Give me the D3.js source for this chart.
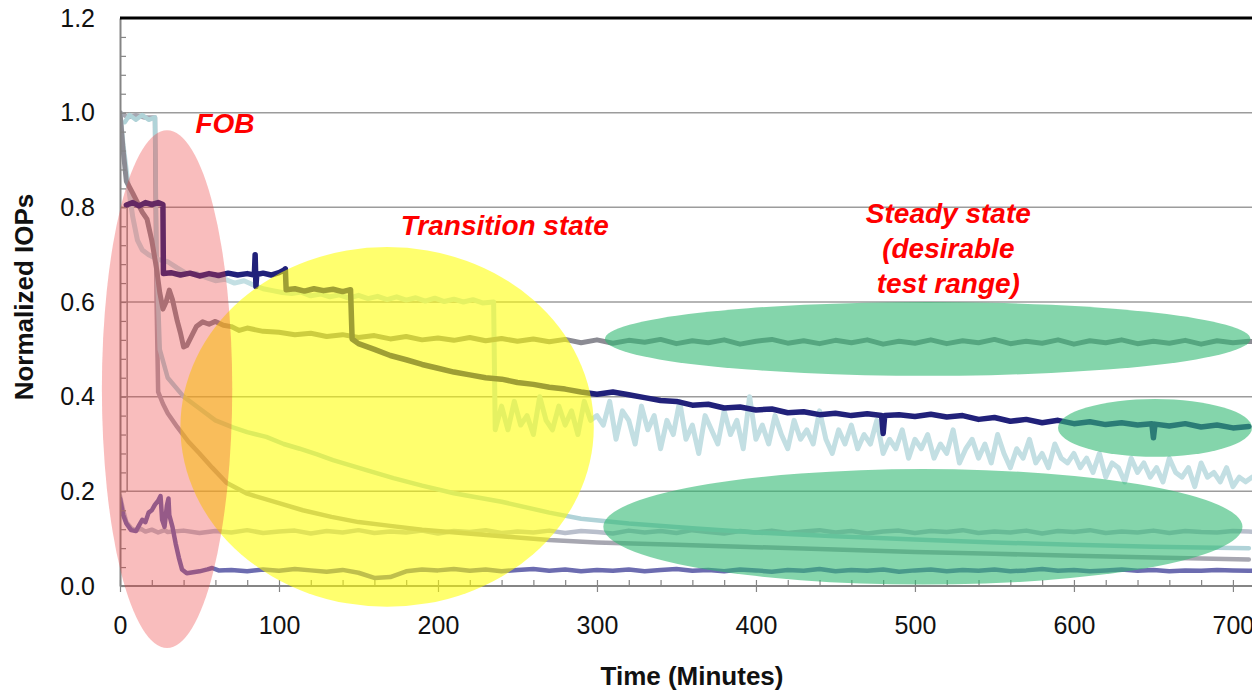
<!DOCTYPE html>
<html>
<head>
<meta charset="utf-8">
<script src="https://cdn.jsdelivr.net/npm/d3@7"></script>
<style>
  body { margin: 0; background: #fff; }
  svg { display: block; font-family: "Liberation Sans", Arial, sans-serif; }
</style>
</head>
<body>
<script>
// ---- data (minutes, normalized IOPs) ----
const xTicks = [0, 100, 200, 300, 400, 500, 600, 700];
const yTicks = [0, 0.2, 0.4, 0.6, 0.8, 1.0, 1.2];
const gridValues = [0.2, 0.4, 0.6, 0.8, 1.0];

// gray series that settles at ~0.52
const s1Head = [[0,1.0],[2,0.92],[4,0.855],[8,0.83],[11,0.81],[14,0.79],[17,0.775],[20,0.73],[23,0.67],[25,0.62],[27,0.585],[29,0.6],[31,0.625],[33,0.605],[36,0.56],[38,0.535],[40,0.505],[42,0.508],[45,0.528],[48,0.548],[52,0.558],[56,0.553],[60,0.559],[65,0.551],[70,0.548],[75,0.54]];
// sampled every 10 min from t=80
const s1Tail = [0.545,0.538,0.536,0.531,0.534,0.527,0.531,0.525,0.529,0.522,0.527,0.52,0.524,0.519,0.525,0.518,0.523,0.517,0.522,0.516,0.521,0.514,0.52,0.513,0.519,0.515,0.521,0.512,0.518,0.514,0.52,0.511,0.517,0.521,0.513,0.518,0.512,0.519,0.514,0.52,0.511,0.517,0.513,0.52,0.512,0.518,0.514,0.521,0.512,0.517,0.513,0.52,0.511,0.518,0.514,0.52,0.512,0.517,0.513,0.519,0.511,0.518,0.514,0.517,0.515,0.516];

// navy series
const s2 = [[4,0.805],[8,0.81],[12,0.803],[16,0.81],[20,0.806],[24,0.81],[27,0.806],[27.3,0.66],[32,0.662],[38,0.657],[44,0.661],[50,0.655],[56,0.66],[62,0.656],[68,0.661],[74,0.657],[80,0.66],[84.5,0.657],[85,0.70],[85.5,0.633],[86,0.658],[90,0.661],[95,0.657],[100,0.662],[103,0.667],[104,0.67],[104.5,0.626],[110,0.628],[116,0.623],[122,0.628],[128,0.624],[134,0.627],[140,0.622],[145,0.626],[146,0.522],[150,0.512],[160,0.5],[170,0.487],[180,0.478],[190,0.468],[200,0.46],[210,0.452],[220,0.446],[230,0.44],[240,0.437],[250,0.43],[260,0.426],[270,0.42],[280,0.416],[290,0.41],[300,0.405],[310,0.41],[320,0.404],[330,0.398],[340,0.392],[350,0.39],[360,0.382],[370,0.384],[380,0.376],[390,0.378],[400,0.372],[410,0.374],[420,0.366],[430,0.368],[440,0.362],[450,0.365],[460,0.36],[470,0.364],[479,0.36],[480,0.322],[481,0.36],[490,0.362],[500,0.358],[510,0.363],[520,0.357],[530,0.36],[540,0.352],[550,0.356],[560,0.348],[570,0.352],[580,0.345],[590,0.35],[600,0.343],[610,0.347],[620,0.341],[630,0.345],[640,0.34],[649,0.343],[650,0.313],[651,0.342],[660,0.338],[670,0.343],[680,0.336],[690,0.34],[700,0.334],[710,0.337]];

// light blue series: ~0.6 plateau then noisy band
const s3Head = [[0,1.0],[2,0.93],[5,0.85],[8,0.78],[11,0.73],[14,0.71],[18,0.7],[24,0.69],[30,0.685],[36,0.672],[42,0.66],[48,0.66],[54,0.652],[60,0.645],[66,0.648],[72,0.64],[78,0.645],[84,0.636],[90,0.628],[96,0.624],[102,0.62],[108,0.618],[114,0.621],[120,0.613],[126,0.617],[132,0.611],[138,0.615],[144,0.608],[150,0.614],[156,0.607],[162,0.612],[168,0.605],[174,0.611],[180,0.604],[186,0.609],[192,0.602],[198,0.608],[204,0.601],[210,0.606],[216,0.6],[222,0.605],[228,0.598],[235,0.6],[236,0.33]];
// sampled every 4 min from t=240
const s3Tail = [0.38,0.33,0.39,0.34,0.36,0.32,0.40,0.35,0.33,0.38,0.34,0.37,0.32,0.39,0.35,0.36,
  0.34,0.39,0.31,0.37,0.35,0.30,0.38,0.33,0.36,0.29,0.35,0.32,0.39,0.31,0.34,0.28,0.36,0.33,0.30,0.37,0.32,0.35,0.29,0.40,0.31,
  0.34,0.30,0.36,0.32,0.29,0.35,0.31,0.33,0.30,0.37,0.31,0.28,0.33,0.30,0.34,0.29,0.32,0.30,0.35,0.28,0.31,0.29,0.33,0.27,0.31,
  0.29,0.32,0.27,0.30,0.28,0.33,0.26,0.29,0.31,0.27,0.30,0.26,0.32,0.28,0.25,0.29,0.27,0.31,0.26,0.28,0.25,0.30,0.27,0.26,0.28,
  0.25,0.27,0.24,0.28,0.23,0.26,0.25,0.22,0.27,0.24,0.26,0.23,0.25,0.22,0.27,0.24,0.23,0.25,0.21,0.26,0.23,0.24,0.22,0.25,0.21,0.23,0.22,0.23];

// gray decay series
const s4 = [[0,1.0],[5,0.99],[10,0.995],[15,0.99],[22,0.99],[23,0.6],[24,0.41],[27,0.385],[30,0.365],[36,0.336],[43,0.305],[50,0.28],[58,0.25],[67,0.218],[80,0.195],[100,0.175],[115,0.16],[133,0.146],[150,0.135],[170,0.127],[190,0.119],[215,0.112],[240,0.105],[270,0.097],[300,0.092],[350,0.087],[400,0.082],[450,0.077],[500,0.072],[550,0.068],[600,0.064],[650,0.06],[710,0.056]];

// light gray series flat at ~0.115
const s5Head = [[0,0.19],[2,0.16],[4,0.135],[7,0.122],[10,0.117],[13,0.121],[16,0.115],[20,0.119],[24,0.113],[28,0.118]];
// sampled every 10 min from t=30
const s5Tail = [0.114,0.117,0.112,0.116,0.113,0.118,0.112,0.115,0.117,0.111,0.116,0.113,0.118,0.112,0.115,0.113,0.117,0.111,0.116,0.114,0.118,0.112,0.115,0.113,0.117,0.112,0.116,0.114,0.111,0.117,0.113,0.116,0.112,0.118,0.114,0.111,0.116,0.113,0.117,0.112,0.115,0.118,0.113,0.116,0.111,0.115,0.117,0.112,0.116,0.114,0.118,0.112,0.115,0.113,0.117,0.111,0.116,0.114,0.118,0.112,0.115,0.113,0.117,0.112,0.116,0.114,0.113,0.116,0.115,0.114,0.116];

// teal/light blue decay series
const s6 = [[3,0.98],[6,0.995],[10,0.985],[14,0.995],[18,0.985],[22,0.99],[23,0.7],[25,0.5],[30,0.44],[40,0.4],[50,0.375],[60,0.35],[71,0.335],[80,0.325],[92,0.315],[103,0.30],[113,0.29],[124,0.278],[134,0.266],[145,0.255],[155,0.245],[172,0.228],[190,0.212],[210,0.196],[240,0.178],[270,0.155],[290,0.142],[320,0.132],[360,0.122],[400,0.113],[450,0.105],[500,0.098],[550,0.092],[600,0.087],[650,0.083],[710,0.08]];

// purple series near zero
const s8Head = [[0,0.185],[2,0.15],[4,0.132],[7,0.118],[10,0.116],[12,0.128],[14,0.14],[16,0.135],[18,0.155],[20,0.16],[22,0.172],[24,0.18],[25.5,0.19],[26.5,0.14],[28,0.125],[29.5,0.17],[30.5,0.185],[31,0.15],[33,0.125],[35,0.09],[37,0.06],[39,0.035],[42,0.027],[46,0.029],[50,0.031],[55,0.035],[58,0.038],[62,0.033]];
// sampled every 10 min from t=70
const s8Tail = [0.034,0.031,0.035,0.032,0.036,0.033,0.03,0.034,0.028,0.017,0.019,0.031,0.035,0.033,0.036,0.032,0.035,0.031,0.034,0.036,0.032,0.035,0.031,0.034,0.032,0.035,0.031,0.034,0.036,0.032,0.034,0.031,0.035,0.033,0.03,0.034,0.032,0.036,0.031,0.034,0.032,0.035,0.03,0.033,0.035,0.031,0.034,0.032,0.035,0.031,0.033,0.036,0.032,0.034,0.031,0.033,0.035,0.032,0.034,0.031,0.033,0.032,0.034,0.033,0.032,0.033,0.034,0.032];

// highlighted regions (center t, center v, radius t, radius v)
const regions = [
  { name: "transition", t: 168, v: 0.336, rt: 130, rv: 0.38, fill: "rgb(255,255,0)", op: 0.57 },
  { name: "fob", t: 29.6, v: 0.416, rt: 41, rv: 0.547, fill: "rgb(238,55,55)", op: 0.33 },
  { name: "steadyTop", t: 508, v: 0.522, rt: 203, rv: 0.078, fill: "rgb(50,185,115)", op: 0.6 },
  { name: "steadyMid", t: 651, v: 0.334, rt: 61, rv: 0.061, fill: "rgb(50,185,115)", op: 0.6 },
  { name: "steadyLow", t: 505, v: 0.125, rt: 201, rv: 0.122, fill: "rgb(50,185,115)", op: 0.6 }
];

const labels = [
  { lines: ["FOB"], t: 66, v: 0.957 },
  { lines: ["Transition state"], t: 242, v: 0.741 },
  { lines: ["Steady state", "(desirable", "test range)"], t: 521, v: 0.767 }
];

// ---- build ----
const tail = (start, step, vals) => vals.map((v, i) => [start + step * i, v]);
const series = [
  { data: s5Head.concat(tail(30, 10, s5Tail)), color: "#b9bfcc", w: 4.5 },
  { data: s4, color: "#a7a7b1", w: 4.5 },
  { data: s6, color: "#b0d3d8", w: 4.5 },
  { data: s8Head.concat(tail(70, 10, s8Tail)), color: "#6c6cb0", w: 4.5 },
  { data: s3Head.concat(tail(240, 4, s3Tail)), color: "#c3dfe3", w: 5 },
  { data: s1Head.concat(tail(80, 10, s1Tail)), color: "#8b8b93", w: 5 },
  { data: s2, color: "#21217a", w: 5.5 }
];

const width = 1252, height = 690;
const plotLeft = 120, plotRight = 1252, plotTop = 18, plotBottom = 586;

const svg = d3.select("body").append("svg")
  .attr("width", width)
  .attr("height", height);

const x = d3.scaleLinear().domain([0, 712]).range([plotLeft, plotRight]);
const y = d3.scaleLinear().domain([0, 1.2]).range([plotBottom, plotTop]);

svg.append("clipPath").attr("id", "plot")
  .append("rect").attr("x", plotLeft).attr("y", plotTop - 2)
  .attr("width", plotRight - plotLeft).attr("height", plotBottom - plotTop + 4);

// gridlines
svg.append("g").selectAll("line")
  .data(gridValues)
  .join("line")
  .attr("x1", plotLeft).attr("x2", plotRight)
  .attr("y1", d => y(d)).attr("y2", d => y(d))
  .attr("stroke", "#9c9c9c")
  .attr("stroke-width", 1.5);

// leftover inner frame of the overlaid chart
svg.append("line")
  .attr("x1", x(4.5)).attr("x2", x(4.5))
  .attr("y1", y(0.8)).attr("y2", y(0.2))
  .attr("stroke", "#8d8d8d").attr("stroke-width", 1.5);

// series
const line = d3.line().x(d => x(d[0])).y(d => y(d[1]));
const lines = svg.append("g").attr("clip-path", "url(#plot)");
lines.selectAll("path")
  .data(series)
  .join("path")
  .attr("d", d => line(d.data))
  .attr("fill", "none")
  .attr("stroke", d => d.color)
  .attr("stroke-width", d => d.w)
  .attr("stroke-linejoin", "round")
  .attr("stroke-linecap", "round");

// axes
const xAxis = svg.append("g").attr("transform", `translate(0,${plotBottom})`)
  .call(d3.axisBottom(x).tickValues(xTicks).tickSize(6).tickPadding(24));
const xMinor = svg.append("g").attr("transform", `translate(0,${plotBottom})`)
  .call(d3.axisBottom(x).tickValues(d3.range(0, 712, 20)).tickSize(-6).tickFormat(""));
const yAxis = svg.append("g").attr("transform", `translate(${plotLeft},0)`)
  .call(d3.axisLeft(y).tickValues(yTicks).tickFormat(d3.format(".1f")).tickSize(0).tickPadding(25));
const yMinor = svg.append("g").attr("transform", `translate(${plotLeft},0)`)
  .call(d3.axisLeft(y).tickValues(d3.range(0, 1.2, 0.04)).tickSize(-6).tickFormat(""));

[xAxis, xMinor, yAxis, yMinor].forEach(g => {
  g.select(".domain").attr("stroke", "#858585").attr("stroke-width", 2);
  g.selectAll(".tick line").attr("stroke", "#858585").attr("stroke-width", 1.2);
  g.selectAll("text").attr("fill", "#111").style("font-size", "25px")
    .style("font-family", "'Liberation Sans', Arial, sans-serif");
});
xAxis.select(".domain").attr("d", `M${plotLeft},0H${plotRight}`);
xMinor.select(".domain").remove();
yMinor.select(".domain").remove();

// top border
svg.append("line")
  .attr("x1", plotLeft).attr("x2", plotRight)
  .attr("y1", y(1.2)).attr("y2", y(1.2))
  .attr("stroke", "#000").attr("stroke-width", 3);

// highlight shapes
svg.append("g").selectAll("ellipse")
  .data(regions)
  .join("ellipse")
  .attr("cx", d => x(d.t))
  .attr("cy", d => y(d.v))
  .attr("rx", d => x(d.t + d.rt) - x(d.t))
  .attr("ry", d => y(d.v - d.rv) - y(d.v))
  .attr("fill", d => d.fill)
  .attr("fill-opacity", d => d.op);

// red annotations
labels.forEach(l => {
  const t = svg.append("text")
    .attr("x", x(l.t)).attr("y", y(l.v))
    .attr("text-anchor", "middle")
    .attr("fill", "#ff0000")
    .style("font-size", "28px")
    .style("font-weight", "bold")
    .style("font-style", "italic");
  l.lines.forEach((s, i) => {
    t.append("tspan").attr("x", x(l.t)).attr("dy", i === 0 ? 0 : 35).text(s);
  });
});

// axis titles
svg.append("text")
  .attr("x", 692).attr("y", 685)
  .attr("text-anchor", "middle")
  .style("font-size", "26px").style("font-weight", "bold")
  .attr("fill", "#111")
  .text("Time (Minutes)");

svg.append("text")
  .attr("transform", "translate(33,297) rotate(-90)")
  .attr("text-anchor", "middle")
  .style("font-size", "26px").style("font-weight", "bold")
  .attr("fill", "#111")
  .text("Normalized IOPs");
</script>
</body>
</html>
